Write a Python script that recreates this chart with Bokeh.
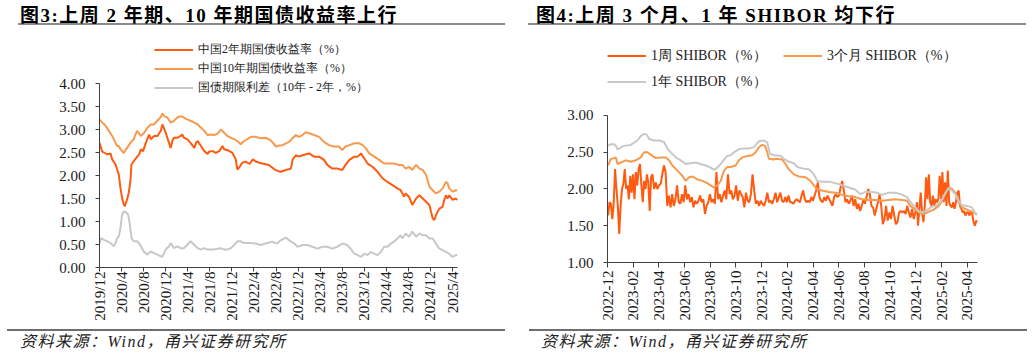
import math
import numpy as np
from bokeh.plotting import figure
from bokeh.models import (FixedTicker, NumeralTickFormatter, Legend, LegendItem,
                          Div, Range1d)
from bokeh.core.properties import value
from bokeh.layouts import row, column
from bokeh.embed import file_html
from bokeh.resources import INLINE

# ---------------- data: left chart (months since 2019-12) ----------------
left_title = "图3:上周 2 年期、10 年期国债收益率上行"
left_tick_labels = ["2019/12", "2020/4", "2020/8", "2020/12", "2021/4", "2021/8",
                    "2021/12", "2022/4", "2022/8", "2022/12", "2023/4", "2023/8",
                    "2023/12", "2024/4", "2024/8", "2024/12", "2025/4"]
left_series_names = ["中国2年期国债收益率（%）", "中国10年期国债收益率（%）",
                     "国债期限利差（10年 - 2年，%）"]

cgb2_month = [0.0, 0.5, 0.8, 1.4, 2.0, 2.3, 2.9, 3.5, 3.8, 4.1, 4.4, 4.6, 5.0, 5.3, 5.6,
              5.8, 6.2, 6.7, 7.2, 7.5, 7.9, 8.4, 9.0, 9.3, 9.9, 10.5, 11.1, 11.4, 12.0, 12.3,
              12.9, 13.2, 13.5, 14.1, 14.7, 15.0, 15.3, 15.9, 16.5, 17.2, 17.5, 17.8, 18.4,
              19.0, 19.6, 19.9, 20.5, 21.1, 21.7, 22.3, 22.6, 23.2, 24.1, 24.7, 25.0, 25.3,
              25.9, 26.5, 27.2, 27.8, 28.4, 29.5, 30.7, 31.9, 32.8, 33.8, 34.7, 35.0, 35.6,
              36.2, 36.8, 38.0, 38.9, 39.8, 40.7, 41.3, 42.2, 43.1, 44.0, 44.6, 45.3, 46.2,
              46.8, 47.4, 48.0, 48.6, 49.5, 50.4, 51.3, 52.2, 53.1, 54.0, 54.6, 55.2, 55.5,
              56.1, 56.7, 57.4, 58.0, 58.6, 59.2, 59.8, 60.1, 60.4, 60.7, 61.0, 61.6, 62.2,
              62.5, 62.8, 63.1, 63.4, 64.0, 64.6, 64.9]
cgb2_yield = [2.71, 2.52, 2.50, 2.46, 2.48, 2.35, 2.24, 2.02, 1.73, 1.51, 1.37, 1.33, 1.48,
              1.62, 1.88, 2.24, 2.31, 2.39, 2.46, 2.57, 2.53, 2.71, 2.89, 2.79, 2.86, 2.86,
              2.97, 3.11, 2.93, 2.82, 2.60, 2.75, 2.82, 2.82, 2.86, 2.89, 2.82, 2.79, 2.71,
              2.60, 2.71, 2.75, 2.64, 2.53, 2.47, 2.52, 2.53, 2.49, 2.53, 2.64, 2.57, 2.55,
              2.49, 2.35, 2.13, 2.17, 2.28, 2.30, 2.25, 2.35, 2.30, 2.26, 2.23, 2.12, 2.08,
              2.12, 2.15, 2.34, 2.44, 2.41, 2.44, 2.48, 2.41, 2.41, 2.34, 2.23, 2.15, 2.15,
              2.12, 2.23, 2.34, 2.41, 2.41, 2.48, 2.37, 2.26, 2.19, 2.08, 1.94, 1.86, 1.79,
              1.72, 1.68, 1.54, 1.61, 1.54, 1.36, 1.50, 1.57, 1.50, 1.43, 1.36, 1.21, 1.07,
              1.03, 1.14, 1.28, 1.32, 1.47, 1.57, 1.50, 1.57, 1.47, 1.50, 1.47]

cgb10_month = [0.0, 0.5, 1.1, 1.7, 2.3, 2.9, 3.2, 3.5, 3.8, 4.1, 4.4, 4.7, 5.0, 5.6, 6.2,
               6.8, 7.5, 8.1, 8.7, 9.3, 9.9, 10.5, 11.1, 11.4, 11.7, 12.3, 12.9, 13.5, 14.1,
               14.7, 15.3, 15.9, 16.5, 17.2, 17.8, 18.4, 19.0, 19.6, 20.2, 20.8, 21.4, 22.0,
               22.6, 23.2, 23.8, 24.4, 25.0, 25.6, 26.2, 26.8, 27.5, 28.3, 29.2, 30.1, 31.0,
               32.0, 32.6, 33.2, 33.8, 34.4, 35.0, 35.6, 36.2, 36.8, 37.4, 38.0, 38.9, 39.8,
               40.7, 41.6, 42.5, 43.4, 44.0, 44.6, 45.3, 46.2, 47.1, 47.7, 48.3, 48.9, 49.8,
               50.7, 51.6, 52.5, 53.4, 54.3, 54.9, 55.5, 56.1, 56.7, 57.4, 58.0, 58.6, 59.2,
               59.8, 60.4, 61.0, 61.6, 62.2, 62.8, 63.1, 63.4, 64.0, 64.6, 64.9]
cgb10_yield = [3.22, 3.15, 3.08, 2.97, 2.86, 2.71, 2.64, 2.64, 2.57, 2.53, 2.49, 2.55, 2.60,
               2.71, 2.79, 2.97, 2.86, 2.93, 3.04, 3.11, 3.11, 3.19, 3.27, 3.35, 3.29, 3.26,
               3.15, 3.19, 3.26, 3.29, 3.26, 3.22, 3.19, 3.15, 3.11, 3.04, 2.97, 2.88, 2.89,
               2.88, 2.91, 3.00, 2.93, 2.86, 2.82, 2.79, 2.75, 2.68, 2.75, 2.79, 2.84, 2.84,
               2.81, 2.82, 2.77, 2.63, 2.65, 2.66, 2.70, 2.73, 2.81, 2.88, 2.84, 2.88, 2.94,
               2.92, 2.88, 2.84, 2.73, 2.66, 2.63, 2.63, 2.55, 2.63, 2.66, 2.70, 2.70, 2.66,
               2.59, 2.48, 2.41, 2.34, 2.26, 2.26, 2.26, 2.23, 2.23, 2.15, 2.19, 2.12, 2.23,
               2.15, 2.12, 2.01, 1.76, 1.68, 1.61, 1.65, 1.72, 1.86, 1.83, 1.72, 1.65, 1.68,
               1.68]

spread_month = [0.0, 0.3, 0.8, 1.4, 2.0, 2.6, 2.9, 3.2, 3.5, 3.8, 4.1, 4.4, 4.9, 5.2, 5.5,
                5.8, 6.2, 6.8, 7.4, 7.7, 8.0, 8.7, 9.3, 9.9, 10.5, 11.1, 11.4, 12.0, 12.6,
                12.9, 13.5, 14.1, 14.7, 15.3, 15.9, 16.5, 17.2, 17.8, 18.4, 19.0, 19.6, 20.2,
                20.8, 21.4, 22.0, 22.6, 23.2, 23.8, 24.4, 25.0, 25.6, 26.2, 26.8, 27.5, 28.3,
                29.2, 30.1, 31.3, 32.2, 32.8, 33.8, 34.4, 35.3, 35.9, 36.8, 37.7, 38.6, 39.5,
                40.4, 41.3, 42.2, 43.1, 44.0, 44.9, 45.5, 46.2, 46.8, 47.4, 48.0, 48.6, 49.2,
                49.8, 50.4, 51.0, 51.6, 52.2, 52.8, 53.4, 54.0, 54.6, 54.9, 55.5, 56.1, 56.7,
                57.4, 58.0, 58.6, 59.2, 59.8, 60.4, 61.0, 61.6, 62.2, 62.8, 63.4, 64.0, 64.6,
                64.9]
spread_value = [0.53, 0.64, 0.60, 0.57, 0.53, 0.46, 0.53, 0.64, 0.68, 0.86, 1.15, 1.22, 1.19,
                1.15, 0.93, 0.64, 0.57, 0.57, 0.49, 0.42, 0.35, 0.28, 0.35, 0.31, 0.28, 0.24,
                0.24, 0.39, 0.46, 0.53, 0.42, 0.46, 0.42, 0.42, 0.49, 0.57, 0.49, 0.42, 0.39,
                0.42, 0.39, 0.39, 0.39, 0.41, 0.42, 0.39, 0.39, 0.42, 0.49, 0.57, 0.57, 0.53,
                0.53, 0.53, 0.52, 0.49, 0.52, 0.56, 0.52, 0.59, 0.65, 0.59, 0.52, 0.45, 0.49,
                0.49, 0.45, 0.41, 0.45, 0.45, 0.41, 0.45, 0.52, 0.49, 0.41, 0.30, 0.27, 0.23,
                0.30, 0.27, 0.34, 0.30, 0.27, 0.34, 0.45, 0.45, 0.52, 0.56, 0.63, 0.70, 0.63,
                0.74, 0.67, 0.78, 0.67, 0.74, 0.70, 0.70, 0.63, 0.63, 0.52, 0.41, 0.38, 0.34,
                0.30, 0.23, 0.27, 0.27]

# ---------------- data: right chart (months since 2022-12) ----------------
right_title = "图4:上周 3 个月、1 年 SHIBOR 均下行"
right_tick_labels = ["2022-12", "2023-02", "2023-04", "2023-06", "2023-08", "2023-10",
                     "2023-12", "2024-02", "2024-04", "2024-06", "2024-08", "2024-10",
                     "2024-12", "2025-02", "2025-04"]
right_series_names = ["1周 SHIBOR（%）", "3个月 SHIBOR（%）", "1年 SHIBOR（%）"]

sh1w_spans = [(0.05, 3.50), (3.63, 12.95), (13.08, 24.09), (24.17, 28.81)]
sh1w_a = [1.64, 1.82, 1.80, 1.59, 1.80, 2.27, 2.00, 1.77, 1.39, 1.77, 2.00, 2.07, 2.27, 2.00,
          2.05, 1.86, 2.18, 1.95, 2.20, 1.86, 2.23, 2.05, 2.27, 2.34, 2.05, 1.82, 2.11, 2.00,
          2.20, 2.09, 1.70, 2.16, 2.20]
sh1w_b = [2.00, 2.09, 2.00, 2.05, 2.07, 2.20, 2.32, 2.23, 1.77, 1.91, 1.75, 1.93, 1.77, 1.86,
          2.05, 1.82, 1.80, 1.93, 1.82, 2.05, 1.86, 1.93, 1.82, 1.89, 1.75, 1.84, 1.80, 1.84,
          1.91, 1.82, 1.86, 1.66, 1.77, 1.82, 1.93, 1.82, 1.86, 1.80, 2.23, 1.86, 1.93, 1.82,
          1.91, 1.98, 1.86, 2.20, 1.93, 1.98, 1.86, 1.91, 2.05, 1.84, 1.98, 1.93, 1.89, 1.75,
          1.95, 1.84, 1.82, 1.93, 2.20, 1.98, 1.80, 1.84, 1.77, 1.84, 1.80, 1.77, 1.84, 1.95,
          1.82, 1.84, 1.80, 1.86]
sh1w_c = [1.95, 1.82, 1.89, 1.95, 1.84, 1.82, 1.89, 1.82, 1.91, 1.82, 1.82, 1.80, 1.84, 1.86,
          1.84, 1.82, 1.91, 1.98, 1.86, 1.82, 1.84, 1.82, 1.89, 1.84, 1.91, 1.98, 2.09, 1.89,
          1.84, 1.82, 1.89, 1.84, 1.91, 1.86, 1.82, 1.77, 1.89, 1.93, 1.89, 1.91, 2.02, 2.11,
          1.98, 1.82, 1.86, 1.80, 1.84, 1.91, 1.77, 1.86, 1.73, 1.80, 1.70, 1.77, 1.86, 1.80,
          1.89, 2.00, 1.93, 1.77, 1.75, 1.64, 1.73, 1.82, 1.93, 1.77, 1.52, 1.59, 1.77, 1.57,
          1.68, 1.59, 1.77, 1.64, 1.52, 1.55, 1.68, 1.70, 1.68, 1.70, 1.66, 1.77, 1.68, 1.61,
          1.73, 1.59, 1.68, 1.82]
sh1w_d = [1.50, 1.73, 1.95, 1.68, 1.55, 1.77, 2.16, 1.86, 2.20, 1.82, 1.77, 1.91, 1.77, 1.86,
          1.82, 1.86, 2.18, 1.86, 2.23, 1.82, 2.09, 1.77, 2.25, 1.82, 1.77, 1.75, 1.82, 1.73,
          1.82, 1.95, 1.98, 1.77, 1.73, 1.68, 1.70, 1.64, 1.68, 1.68, 1.64, 1.70, 1.66, 1.55,
          1.50, 1.57, 1.55]

sh3m_month = [0.05, 0.26, 0.52, 0.65, 0.78, 1.04, 1.42, 1.81, 2.20, 2.59, 2.85, 3.11, 3.50,
              3.76, 4.15, 4.53, 4.79, 5.05, 5.44, 5.83, 6.09, 6.35, 6.61, 6.99, 7.38, 7.77,
              8.03, 8.29, 8.55, 8.81, 9.07, 9.33, 9.59, 9.97, 10.23, 10.49, 10.88, 11.27,
              11.53, 11.79, 12.05, 12.25, 12.44, 12.56, 12.95,
              13.08, 13.6, 13.86, 14.1, 14.5, 14.9, 15.4, 15.8, 16.06, 16.32, 16.7, 17.23,
              17.75, 18.26, 18.78, 19.3, 19.8, 20.34, 20.86, 21.37, 21.89, 22.41, 22.93,
              23.32, 23.58, 23.96, 24.35, 24.61, 25.0, 25.39, 25.78, 26.04, 26.3, 26.55,
              26.81, 27.07, 27.33, 27.59, 27.98, 28.37, 28.76]
sh3m_rate = [2.32, 2.41, 2.42, 2.43, 2.34, 2.36, 2.39, 2.37, 2.39, 2.43, 2.50, 2.50, 2.45,
             2.42, 2.43, 2.43, 2.39, 2.32, 2.25, 2.18, 2.11, 2.16, 2.17, 2.13, 2.11, 2.08,
             2.05, 2.02, 2.05, 2.11, 2.25, 2.30, 2.30, 2.32, 2.39, 2.43, 2.45, 2.46, 2.50,
             2.57, 2.60, 2.59, 2.50, 2.41, 2.40,
             2.41, 2.40, 2.34, 2.27, 2.20, 2.17, 2.16, 2.11, 2.05, 2.00, 1.98, 1.96, 1.95,
             1.92, 1.90, 1.89, 1.86, 1.85, 1.85, 1.84, 1.85, 1.86, 1.85, 1.84, 1.77, 1.72,
             1.67, 1.66, 1.69, 1.72, 1.77, 1.84, 1.93, 2.02, 2.00, 1.95, 1.82, 1.75, 1.72,
             1.69, 1.65]

sh1y_month = [0.05, 0.26, 0.52, 0.65, 0.78, 0.91, 1.17, 1.42, 1.81, 2.07, 2.33, 2.59, 2.85,
              3.06, 3.24, 3.63, 4.02, 4.40, 4.66, 4.92, 5.31, 5.70, 6.09, 6.48, 6.87, 7.25,
              7.64, 8.03, 8.29, 8.55, 8.81, 9.07, 9.33, 9.59, 9.84, 10.23, 10.62, 11.01,
              11.40, 11.79, 12.18, 12.44, 12.64, 12.95,
              13.08, 13.5, 13.73, 14.12, 14.5, 14.77, 15.16, 15.67, 16.06, 16.32, 16.7,
              17.23, 17.75, 18.26, 18.78, 19.3, 19.69, 20.08, 20.6, 20.98, 21.37, 21.89,
              22.41, 22.8, 23.06, 23.32, 23.58, 23.96, 24.22, 24.48, 24.74, 25.0, 25.26,
              25.52, 25.78, 26.04, 26.3, 26.55, 26.81, 27.07, 27.33, 27.59, 27.98, 28.37,
              28.63, 28.76]
sh1y_rate = [2.59, 2.61, 2.61, 2.59, 2.54, 2.55, 2.58, 2.59, 2.60, 2.63, 2.66, 2.72, 2.75,
             2.74, 2.68, 2.66, 2.66, 2.64, 2.55, 2.50, 2.43, 2.39, 2.34, 2.35, 2.36, 2.34,
             2.32, 2.29, 2.26, 2.29, 2.34, 2.40, 2.45, 2.46, 2.50, 2.54, 2.55, 2.55, 2.57,
             2.65, 2.66, 2.63, 2.48, 2.46,
             2.46, 2.45, 2.41, 2.37, 2.35, 2.30, 2.28, 2.27, 2.20, 2.11, 2.10, 2.10, 2.08,
             2.05, 2.02, 1.99, 1.93, 1.96, 1.96, 1.95, 1.92, 1.95, 1.95, 1.93, 1.91, 1.89,
             1.82, 1.75, 1.70, 1.68, 1.70, 1.73, 1.76, 1.77, 1.80, 1.86, 1.95, 2.01, 1.98,
             1.93, 1.84, 1.78, 1.77, 1.75, 1.67, 1.66]

footnote = "资料来源：Wind，甬兴证券研究所"

# ---------------- styling ----------------
C_DARK = "#FF5A10"
C_LIGHT = "#F79A4E"
C_GRAY = "#C8C8C8"
FONT = "Liberation Serif"
LW = 2
LEFT_W = 516
RIGHT_W = 514
FIG_H = 294


def base_figure(width, xr, yr, ybounds, yticks, xticks, xlabels, borders,
                y_standoff, x_tick_out, x_standoff):
    left, right, top, bottom = borders
    p = figure(width=width, height=FIG_H, output_backend="svg", toolbar_location=None,
               title=None, x_range=Range1d(*xr), y_range=Range1d(*yr),
               min_border_left=left, min_border_right=right,
               min_border_top=top, min_border_bottom=bottom)
    p.frame_align = False
    p.outline_line_color = None
    p.background_fill_color = None
    p.border_fill_color = None
    p.grid.visible = False
    for ax in (p.xaxis[0], p.yaxis[0]):
        ax.axis_line_color = "#404040"
        ax.axis_line_width = 1
        ax.major_tick_line_color = "#404040"
        ax.minor_tick_line_color = None
        ax.major_tick_in = 0
        ax.major_label_text_font = FONT
        ax.major_label_text_font_size = "15px"
        ax.major_label_text_color = "#1a1a1a"
    p.yaxis[0].bounds = ybounds
    p.yaxis[0].ticker = FixedTicker(ticks=yticks)
    p.yaxis[0].formatter = NumeralTickFormatter(format="0.00")
    p.yaxis[0].major_tick_out = 4
    p.yaxis[0].major_label_standoff = y_standoff
    p.xaxis[0].ticker = FixedTicker(ticks=xticks)
    p.xaxis[0].major_label_overrides = {t: lab for t, lab in zip(xticks, xlabels)}
    p.xaxis[0].major_label_orientation = math.pi / 2
    p.xaxis[0].major_tick_out = x_tick_out
    p.xaxis[0].major_label_standoff = x_standoff
    return p


def add_legend(p, renderer, label, loc, font_size):
    lg = Legend(items=[LegendItem(label=value(label), renderers=[renderer])],
                location=loc, orientation="vertical", padding=0, margin=0, spacing=0,
                glyph_width=39, glyph_height=19, label_height=19, label_standoff=5,
                label_text_font=FONT, label_text_font_size=font_size,
                label_text_color="#222222", background_fill_alpha=0,
                border_line_alpha=0)
    p.add_layout(lg)


def header_div(width, text, text_left, rule_left, rule_width):
    # title text with a grey rule just under it (border of the title block)
    html = (
        f'<div style="position:relative;width:{width}px;height:32px;">'
        f'<div style="position:absolute;left:{rule_left}px;top:6px;width:{rule_width}px;'
        f'height:19px;border-bottom:2px solid #8a8a8a;"></div>'
        f'<div style="position:absolute;left:{text_left}px;top:6px;white-space:nowrap;'
        "font-family:'Liberation Serif','Noto Sans CJK SC',serif;font-weight:bold;"
        f'font-size:19px;line-height:19px;letter-spacing:1.5px;color:#000;">{text}</div>'
        '</div>')
    return Div(text=html, width=width, height=32, margin=(0, 0, 0, 0),
               styles={"z-index": "10"})


def footer_div(width, text, text_left, rule_left, rule_width):
    html = (
        f'<div style="position:relative;width:{width}px;height:29px;">'
        f'<div style="position:absolute;left:{rule_left}px;top:3px;width:{rule_width}px;'
        'height:0px;border-top:2px solid #6e6e6e;"></div>'
        f'<div style="position:absolute;left:{text_left}px;top:8px;white-space:nowrap;'
        "font-family:'Liberation Serif','Noto Sans CJK SC',serif;font-style:italic;"
        f'font-size:16px;line-height:16px;letter-spacing:1.5px;color:#222;">{text}</div>'
        '</div>')
    return Div(text=html, width=width, height=29, margin=(0, 0, 0, 0))


# ---------------- left chart ----------------
lx_ticks = [4 * i for i in range(len(left_tick_labels))]
p1 = base_figure(LEFT_W, (0, 64.9), (0, 5.0), (0, 4), [0.5 * i for i in range(9)],
                 lx_ticks, left_tick_labels, (99, 59, 5, 59), 10, 4, 0)
r2 = p1.line(cgb2_month, cgb2_yield, line_color=C_DARK, line_width=LW)
r10 = p1.line(cgb10_month, cgb10_yield, line_color=C_LIGHT, line_width=LW)
rsp = p1.line(spread_month, spread_value, line_color=C_GRAY, line_width=LW)
add_legend(p1, r2, left_series_names[0], (55, 208), "12px")
add_legend(p1, r10, left_series_names[1], (55, 189), "12px")
add_legend(p1, rsp, left_series_names[2], (55, 170), "12px")

# ---------------- right chart ----------------
sh1w_x = np.concatenate([np.linspace(a, b, len(seg)) for (a, b), seg in
                         zip(sh1w_spans, [sh1w_a, sh1w_b, sh1w_c, sh1w_d])])
sh1w_y = np.concatenate([sh1w_a, sh1w_b, sh1w_c, sh1w_d])

rx_ticks = [2 * i for i in range(len(right_tick_labels))]
p2 = base_figure(RIGHT_W, (0, 28.8), (1, 3.993), (1, 3), [1 + 0.5 * i for i in range(5)],
                 rx_ticks, right_tick_labels, (91, 53, 10, 64), 10, 5, 3)
rw = p2.line(sh1w_x, sh1w_y, line_color=C_DARK, line_width=LW)
r3m = p2.line(sh3m_month, sh3m_rate, line_color=C_LIGHT, line_width=LW)
r1y = p2.line(sh1y_month, sh1y_rate, line_color=C_GRAY, line_width=LW)
add_legend(p2, rw, right_series_names[0], (0, 197), "14px")
add_legend(p2, r3m, right_series_names[1], (176, 197), "14px")
add_legend(p2, r1y, right_series_names[2], (0, 171), "14px")

layout = column(
    row(header_div(LEFT_W, left_title, 20, 18, 487),
        header_div(RIGHT_W, right_title, 20, 12, 498), spacing=0),
    row(p1, p2, spacing=0),
    row(footer_div(LEFT_W, footnote, 20, 7, 498),
        footer_div(RIGHT_W, footnote, 25, 13, 498), spacing=0),
    spacing=0)

open("out.html", "w").write(file_html(layout, INLINE))
